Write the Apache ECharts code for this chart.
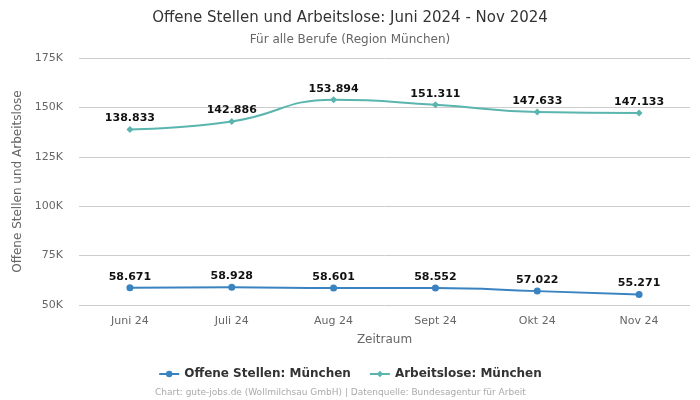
<!DOCTYPE html>
<html><head><meta charset="utf-8">
<script src="https://cdn.jsdelivr.net/npm/echarts@6/dist/echarts.min.js"></script>
<style>html,body{margin:0;padding:0;background:#fff}#c{width:700px;height:400px}</style>
</head><body><div id="c"></div>
<script>
const categories = ['Juni 24','Juli 24','Aug 24','Sept 24','Okt 24','Nov 24'];
const offeneStellen = [58671,58928,58601,58552,57022,55271];
const arbeitslose = [138833,142886,153894,151311,147633,147133];
const fmt = v => v.toLocaleString('de-DE');
const chart = echarts.init(document.getElementById('c'));
const ff = 'DejaVu Sans, sans-serif';
chart.setOption({
  animation:false,
  textStyle:{fontFamily:ff},
  title:{text:'Offene Stellen und Arbeitslose: Juni 2024 - Nov 2024',subtext:'Für alle Berufe (Region München)',left:'center',top:6,
    textStyle:{fontSize:15,fontWeight:'normal',color:'#333',fontFamily:ff},
    subtextStyle:{fontSize:12,color:'#666',fontFamily:ff},itemGap:8},
  legend:{bottom:15,itemGap:18,itemWidth:20,itemHeight:8,textStyle:{fontSize:12,fontWeight:'bold',color:'#333',fontFamily:ff},
    data:['Offene Stellen: München','Arbeitslose: München']},
  graphic:[{type:'text',left:155,bottom:3,style:{text:'Chart: gute-jobs.de (Wollmilchsau GmbH) | Datenquelle: Bundesagentur für Arbeit',fill:'#aaa',fontSize:9,fontFamily:ff}}],
  grid:{left:79,right:10,top:58,bottom:95},
  xAxis:{type:'category',data:categories,name:'Zeitraum',nameLocation:'middle',nameGap:29,
    nameTextStyle:{fontSize:12,color:'#666'},
    axisLine:{show:false},axisTick:{show:false},axisLabel:{color:'#666',fontSize:11,margin:11}},
  yAxis:{type:'value',min:50000,max:175000,interval:25000,name:'Offene Stellen und Arbeitslose',nameLocation:'middle',nameGap:44,
    nameTextStyle:{fontSize:12,color:'#666'},
    axisLabel:{color:'#666',fontSize:11,formatter:v=>(v/1000)+'K',margin:16},
    splitLine:{lineStyle:{color:'#ccc'}}},
  series:[
    {name:'Offene Stellen: München',type:'line',smooth:true,data:offeneStellen,symbol:'circle',symbolSize:7,
      itemStyle:{color:'#3a83c1'},lineStyle:{width:2},
      label:{show:true,position:'top',formatter:p=>fmt(p.value),fontWeight:'bold',fontSize:11,color:'#111',distance:2}},
    {name:'Arbeitslose: München',type:'line',smooth:true,data:arbeitslose,symbol:'diamond',symbolSize:7,
      itemStyle:{color:'#5ab5ae'},lineStyle:{width:2},
      label:{show:true,position:'top',formatter:p=>fmt(p.value),fontWeight:'bold',fontSize:11,color:'#111',distance:2}}
  ]
});
</script></body></html>
